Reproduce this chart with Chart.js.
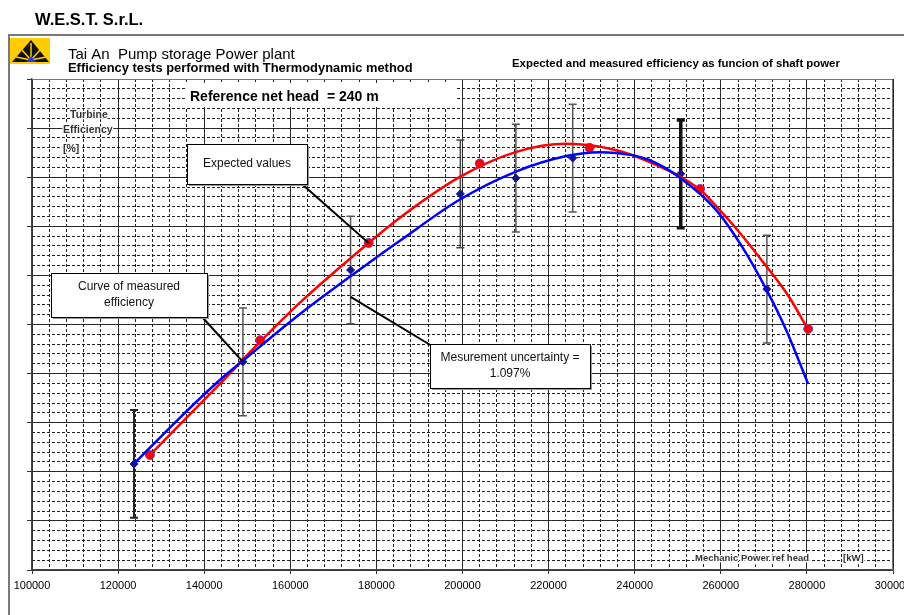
<!DOCTYPE html>
<html>
<head>
<meta charset="utf-8">
<script src="https://cdn.jsdelivr.net/npm/chart.js@4.4.1/dist/chart.umd.min.js"></script>
<style>
  html, body { margin: 0; padding: 0; background: #fff; }
</style>
</head>
<body>
<canvas id="effChart" width="904" height="615"></canvas>
<script>
const FONT = "'Liberation Sans', Arial, sans-serif";

// measured points (blue) with uncertainty bars
const measPower = [123700, 149000, 174000, 199500, 212400, 225600, 250700, 270700];
const measEff = [87.16, 89.24, 91.11, 92.66, 92.98, 93.39, 93.07, 90.72];
const uncertainty = 1.097;
const barWidths = [2, 1.5, 1.5, 1.5, 1.5, 1.5, 3.5, 1.5];
const barColors = ['#222', '#555', '#555', '#444', '#555', '#555', '#111', '#555'];

// expected points (red)
const expPower = [127400, 153000, 178200, 204000, 229500, 255200, 280300];
const expEff = [87.34, 89.68, 91.66, 93.28, 93.60, 92.76, 89.91];

// trend curves
const measCurvePower = [123670, 134340, 143620, 148960, 162180, 179120, 185380, 199300, 212300,
  224130, 231790, 239440, 243390, 250350, 258930, 264970, 270540, 275180, 280280];
const measCurveEff = [87.16, 88.10, 88.87, 89.26, 90.21, 91.31, 91.70, 92.54, 93.11,
  93.43, 93.51, 93.45, 93.35, 93.00, 92.33, 91.58, 90.72, 89.89, 88.79];
const expCurvePower = [127380, 143620, 152900, 162180, 178190, 185380, 199300, 212300, 224130,
  235730, 243390, 254990, 258930, 263810, 269840, 275870, 280050];
const expCurveEff = [87.34, 88.79, 89.64, 90.44, 91.66, 92.17, 93.00, 93.51, 93.68,
  93.55, 93.31, 92.76, 92.41, 91.93, 91.27, 90.56, 89.93];

const xMin = 100000, xMax = 300000;
const yMin = 85, yMax = 95;

const pts = (xs, ys) => xs.map((x, i) => ({ x, y: ys[i] }));

function drawLogo(c) {
  c.fillStyle = '#ffcc00';
  c.fillRect(10, 38, 40, 26);
  c.fillStyle = '#111';
  c.beginPath(); c.moveTo(31, 40); c.lineTo(49, 62); c.lineTo(12, 62); c.closePath(); c.fill();
  c.strokeStyle = '#ffcc00';
  c.lineWidth = 1.5;
  c.beginPath();
  [[31, 60, 31, 43], [31, 60, 22, 50], [31, 60, 40, 50], [31, 60, 16, 57], [31, 60, 46, 57]].forEach(r => {
    c.moveTo(r[0], r[1]); c.lineTo(r[2], r[3]);
  });
  c.stroke();
  c.fillStyle = '#1e3cff';
  c.beginPath(); c.moveTo(31, 56); c.lineTo(36, 62); c.lineTo(26, 62); c.closePath(); c.fill();
}

function haloText(c, str, x, y) {
  c.lineWidth = 2.5;
  c.strokeStyle = '#fff';
  c.strokeText(str, x, y);
  c.fillText(str, x, y);
}

function callout(c, box, lines, from, to) {
  c.strokeStyle = '#000';
  c.lineWidth = 2;
  c.beginPath(); c.moveTo(from[0], from[1]); c.lineTo(to[0], to[1]); c.stroke();
  c.fillStyle = '#999';
  c.fillRect(box[0] + 2, box[1] + 2, box[2], box[3]);
  c.fillStyle = '#fff';
  c.fillRect(box[0], box[1], box[2], box[3]);
  c.lineWidth = 1;
  c.strokeRect(box[0] + 0.5, box[1] + 0.5, box[2], box[3]);
  c.fillStyle = '#111';
  c.font = '12px ' + FONT;
  c.textAlign = 'center';
  c.textBaseline = 'middle';
  const cx = box[0] + box[2] / 2;
  const y0 = box[1] + box[3] / 2 - (lines.length - 1) * 8;
  lines.forEach((l, i) => c.fillText(l, cx, y0 + i * 16));
}

const drawings = {
  id: 'drawings',
  beforeDraw(chart) {
    const c = chart.ctx;
    c.save();
    c.fillStyle = '#fff';
    c.fillRect(0, 0, chart.width, chart.height);
    c.strokeStyle = '#7a7a7a';
    c.lineWidth = 2;
    c.strokeRect(9, 35, 1000, 700);
    c.fillStyle = '#000';
    c.font = 'bold 16.5px ' + FONT;
    c.fillText('W.E.S.T. S.r.L.', 35, 25);
    drawLogo(c);
    c.fillStyle = '#000';
    c.font = '15px ' + FONT;
    c.fillText('Tai An  Pump storage Power plant', 68, 59);
    c.font = 'bold 12.9px ' + FONT;
    c.fillText('Efficiency tests performed with Thermodynamic method', 68, 72);
    c.font = 'bold 11.4px ' + FONT;
    c.fillText('Expected and measured efficiency as funcion of shaft power', 512, 67);
    c.restore();
  },
  beforeDatasetsDraw(chart) {
    const { ctx: c, chartArea: a, scales: { x, y } } = chart;
    c.save();
    c.strokeStyle = '#777';
    c.lineWidth = 1;
    c.beginPath();
    c.moveTo(a.left, a.top + 0.5); c.lineTo(a.right - 0.5, a.top + 0.5); c.lineTo(a.right - 0.5, a.bottom);
    c.stroke();

    c.fillStyle = '#fff';
    c.fillRect(186, 83, 270, 24);
    c.fillStyle = '#000';
    c.font = 'bold 14px ' + FONT;
    c.fillText('Reference net head  = 240 m', 190, 101);

    c.fillStyle = '#333';
    c.font = 'bold 10.5px ' + FONT;
    haloText(c, 'Turbine', 70, 118);
    haloText(c, 'Efficiency', 63, 133);
    haloText(c, '[%]', 63, 152);
    c.font = 'bold 9.5px ' + FONT;
    haloText(c, 'Mechanic Power ref head', 695, 561);
    haloText(c, '[kW]', 843, 561);

    // uncertainty bars
    measPower.forEach((p, i) => {
      const px = x.getPixelForValue(p);
      const top = y.getPixelForValue(measEff[i] + uncertainty);
      const bot = y.getPixelForValue(measEff[i] - uncertainty);
      c.strokeStyle = barColors[i];
      c.lineWidth = barWidths[i];
      c.beginPath();
      c.moveTo(px, top); c.lineTo(px, bot);
      c.moveTo(px - 4, top); c.lineTo(px + 4, top);
      c.moveTo(px - 4, bot); c.lineTo(px + 4, bot);
      c.stroke();
    });
    c.restore();
  },
  afterDatasetsDraw(chart) {
    const { ctx: c, scales: { x, y } } = chart;
    c.save();
    callout(c, [187, 144, 120, 40], ['Expected values'], [303, 185],
      [x.getPixelForValue(expPower[2]), y.getPixelForValue(expEff[2])]);
    callout(c, [51, 273, 156, 44], ['Curve of measured', 'efficiency'], [203, 318],
      [x.getPixelForValue(measPower[1]), y.getPixelForValue(measEff[1])]);
    callout(c, [430, 344, 160, 44], ['Mesurement uncertainty =', '1.097%'], [432, 346],
      [x.getPixelForValue(measPower[2]), y.getPixelForValue(measEff[2] - uncertainty / 2)]);
    c.restore();
  }
};

const ctx = document.getElementById('effChart');
new Chart(ctx, {
  type: 'line',
  data: {
    datasets: [
      {
        label: 'Curve of measured efficiency',
        data: pts(measCurvePower, measCurveEff),
        borderColor: '#0000ff',
        borderWidth: 2.5,
        pointRadius: 0,
        cubicInterpolationMode: 'monotone',
      },
      {
        label: 'Expected curve',
        data: pts(expCurvePower, expCurveEff),
        borderColor: '#ff0000',
        borderWidth: 2.5,
        pointRadius: 0,
        cubicInterpolationMode: 'monotone',
      },
      {
        label: 'Measured',
        data: pts(measPower, measEff),
        showLine: false,
        pointStyle: 'rectRot',
        pointRadius: 4,
        backgroundColor: '#14148c',
        borderColor: '#14148c',
      },
      {
        label: 'Expected values',
        data: pts(expPower, expEff),
        showLine: false,
        pointStyle: 'circle',
        pointRadius: 4.5,
        backgroundColor: '#ff0000',
        borderColor: '#7a3cc8',
        borderWidth: 1,
      },
    ],
  },
  options: {
    responsive: false,
    animation: false,
    devicePixelRatio: 1,
    layout: { padding: { top: 79, right: 11, bottom: 0, left: 0 } },
    plugins: { legend: { display: false }, tooltip: { enabled: false } },
    scales: {
      x: {
        type: 'linear', position: 'bottom', min: xMin, max: xMax, z: -1,
        ticks: {
          stepSize: 20000, autoSkip: false, maxRotation: 0, padding: 5, color: '#000',
          font: { family: FONT, size: 11 }, callback: v => String(v),
        },
        grid: { color: '#333', lineWidth: 1, tickLength: 4, tickColor: '#333' },
        border: { color: '#444', width: 1.5 },
        afterFit: s => { s.height = 45; s.paddingLeft = 0; s.paddingRight = 0; },
      },
      xMinor: {
        type: 'linear', position: 'bottom', min: xMin, max: xMax, z: -2,
        ticks: { display: false, stepSize: 4000 },
        grid: { color: '#222', lineWidth: 1, drawTicks: false },
        border: { display: false, dash: [3, 2] },
        afterFit: s => { s.height = 0; s.paddingLeft = 0; s.paddingRight = 0; },
      },
      y: {
        type: 'linear', position: 'left', min: yMin, max: yMax, z: -1,
        ticks: { display: false, stepSize: 1 },
        grid: { color: '#333', lineWidth: 1, tickLength: 5, tickColor: '#333' },
        border: { color: '#444', width: 1.5 },
        afterFit: s => { s.width = 32; s.paddingTop = 0; s.paddingBottom = 0; },
      },
      yMinor: {
        type: 'linear', position: 'left', min: yMin, max: yMax, z: -2,
        ticks: { display: false, stepSize: 0.2 },
        grid: { color: '#222', lineWidth: 1, drawTicks: false },
        border: { display: false, dash: [3, 2] },
        afterFit: s => { s.width = 0; s.paddingTop = 0; s.paddingBottom = 0; },
      },
    },
  },
  plugins: [drawings],
});
</script>
</body>
</html>
